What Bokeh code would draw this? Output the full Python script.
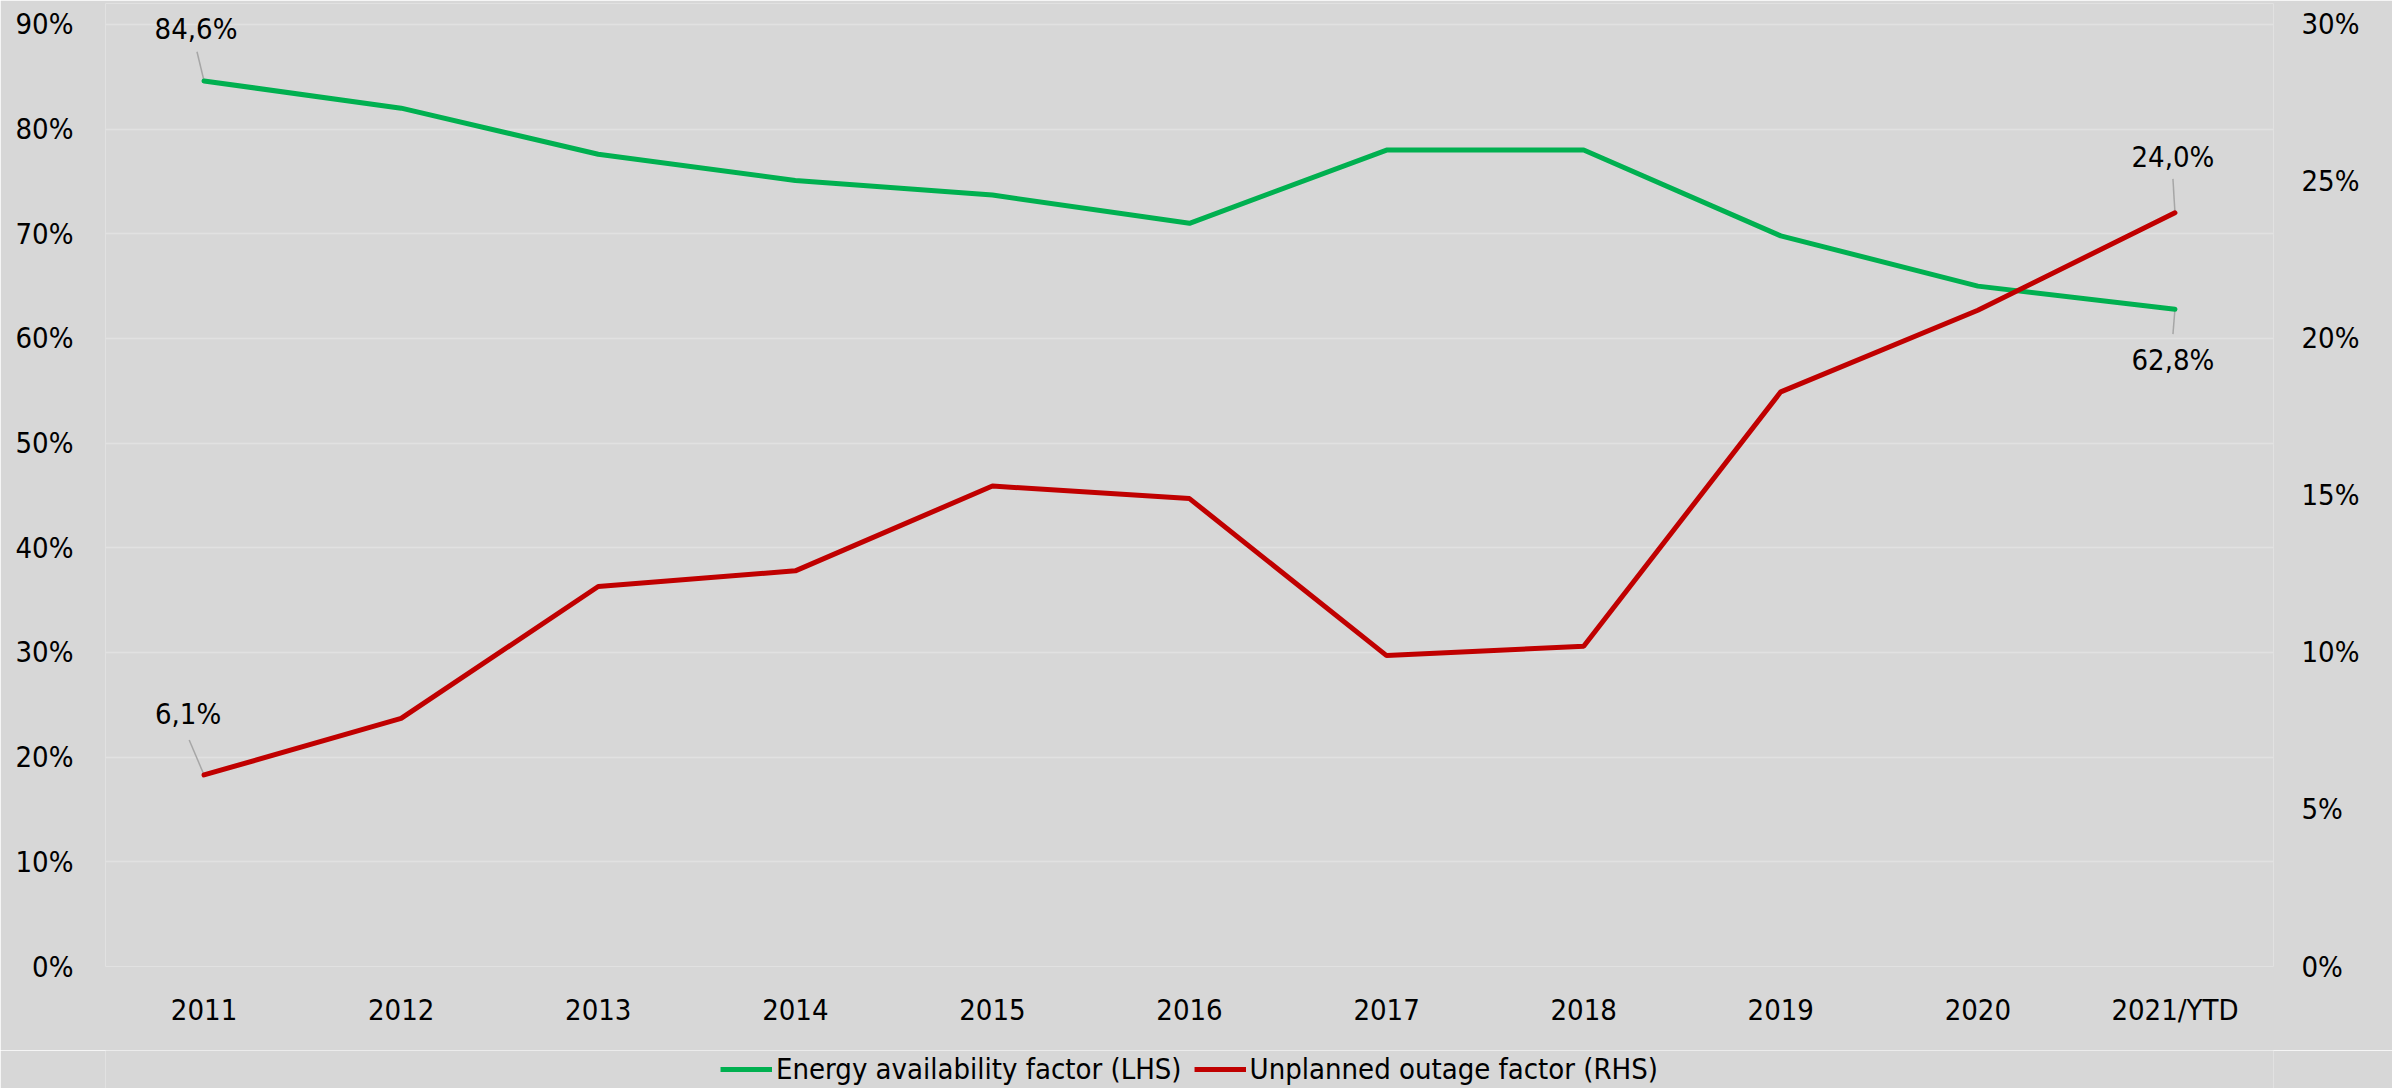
from bokeh.plotting import figure
from bokeh.layouts import column
from bokeh.models import (FactorRange, Range1d, LinearAxis, FixedTicker,
                          PrintfTickFormatter, Legend, LegendItem, ColumnDataSource)
from bokeh.core.properties import value
from bokeh.embed import file_html
from bokeh.resources import INLINE

# ---- data ----
years = ["2011", "2012", "2013", "2014", "2015", "2016", "2017", "2018", "2019", "2020", "2021/YTD"]
eaf = [84.6, 82.0, 77.6, 75.1, 73.7, 71.0, 78.0, 78.0, 69.8, 65.0, 62.8]
uof = [6.1, 7.9, 12.1, 12.6, 15.3, 14.9, 9.9, 10.2, 18.3, 20.9, 24.0]
left_ticks = [0, 10, 20, 30, 40, 50, 60, 70, 80, 90]
right_ticks = [0, 5, 10, 15, 20, 25, 30]
eaf_name = "Energy availability factor (LHS)"
uof_name = "Unplanned outage factor (RHS)"

FONT = "DejaVu Sans Condensed"
FS = "29px"
BG = "#d7d7d7"
GREEN = "#00b050"
RED = "#c00000"

# small headroom above the top tick so the top data label is not clipped
Y_LEFT_END = 92
Y_RIGHT_END = Y_LEFT_END / 3


def fmt(v):
    return f"{v:.1f}%".replace(".", ",")


p = figure(x_range=FactorRange(*years), y_range=Range1d(0, Y_LEFT_END),
           frame_width=2168, frame_height=963, output_backend="svg", toolbar_location=None,
           background_fill_color=BG, border_fill_color=BG, outline_line_color=None,
           min_border_left=105, min_border_right=119, min_border_top=3, min_border_bottom=84)
p.extra_y_ranges = {"rhs": Range1d(0, Y_RIGHT_END)}

# axes
for ax in [p.xaxis[0], p.yaxis[0]]:
    ax.axis_line_color = None
    ax.major_tick_line_color = None
    ax.minor_tick_line_color = None
    ax.major_label_text_font = FONT
    ax.major_label_text_font_size = FS
    ax.major_label_text_color = "#000000"

p.xaxis.major_label_standoff = 20

p.yaxis.ticker = FixedTicker(ticks=left_ticks)
p.yaxis.formatter = PrintfTickFormatter(format="%d%%")
p.yaxis.major_label_standoff = 26

rax = LinearAxis(y_range_name="rhs", ticker=FixedTicker(ticks=right_ticks),
                 formatter=PrintfTickFormatter(format="%d%%"),
                 axis_line_color=None, major_tick_line_color=None, minor_tick_line_color=None,
                 major_label_text_font=FONT, major_label_text_font_size=FS,
                 major_label_text_color="#000000", major_label_standoff=22)
p.add_layout(rax, "right")

p.xgrid.visible = False
p.ygrid.grid_line_color = "#e1e1e1"
p.ygrid.grid_line_width = 1.5

# leader lines
lead_g = ColumnDataSource(dict(x=[years[0], years[-1]], y=[eaf[0], eaf[-1]],
                               length=[30, 25], angle=[103.6, 265.4]))
lead_r = ColumnDataSource(dict(x=[years[0], years[-1]], y=[uof[0], uof[-1]],
                               length=[38, 34], angle=[113.0, 93.4]))
p.ray(x="x", y="y", length="length", angle="angle", source=lead_g, angle_units="deg",
      length_units="screen", line_color="#a6a6a6", line_width=1.5)
p.ray(x="x", y="y", length="length", angle="angle", source=lead_r, angle_units="deg",
      length_units="screen", line_color="#a6a6a6", line_width=1.5, y_range_name="rhs")

# lines
g = p.line(years, eaf, line_color=GREEN, line_width=5, line_cap="round")
r = p.line(years, uof, line_color=RED, line_width=5, line_cap="round", y_range_name="rhs")

# data labels
lab_g = ColumnDataSource(dict(x=[years[0], years[-1]], y=[eaf[0], eaf[-1]],
                              text=[fmt(eaf[0]), fmt(eaf[-1])],
                              xo=[-8, -2], yo=[-52, 51]))
lab_r = ColumnDataSource(dict(x=[years[0], years[-1]], y=[uof[0], uof[-1]],
                              text=[fmt(uof[0]), fmt(uof[-1])],
                              xo=[-16, -2], yo=[-61, -56]))
for src, rn in [(lab_g, "default"), (lab_r, "rhs")]:
    p.text(x="x", y="y", text="text", x_offset="xo", y_offset="yo", source=src,
           text_font=value(FONT), text_font_size=FS, text_color="#000000",
           text_align="center", text_baseline="middle", y_range_name=rn)

# ---- legend strip below the chart ----
# same series drawn outside this strip's visible y-range; only their legend keys show
leg = figure(x_range=FactorRange(*years), y_range=Range1d(-200, -100),
             width=2392, height=38, output_backend="svg", toolbar_location=None,
             background_fill_color=BG, border_fill_color=BG, outline_line_color=None,
             min_border=0)
leg.axis.visible = False
leg.grid.visible = False
lg = leg.line(years, eaf, line_color=GREEN, line_width=5)
lr = leg.line(years, uof, line_color=RED, line_width=5)

legend = Legend(items=[LegendItem(label=eaf_name, renderers=[lg]),
                       LegendItem(label=uof_name, renderers=[lr])],
                orientation="horizontal", location="center",
                padding=0, margin=0, spacing=12, glyph_width=52, glyph_height=34,
                label_height=34, label_standoff=4,
                label_text_font=FONT, label_text_font_size=FS, label_text_color="#000000",
                background_fill_alpha=0, border_line_alpha=0)
leg.add_layout(legend)

layout = column(p, leg, spacing=0)
open("out.html", "w").write(file_html(layout, INLINE))
